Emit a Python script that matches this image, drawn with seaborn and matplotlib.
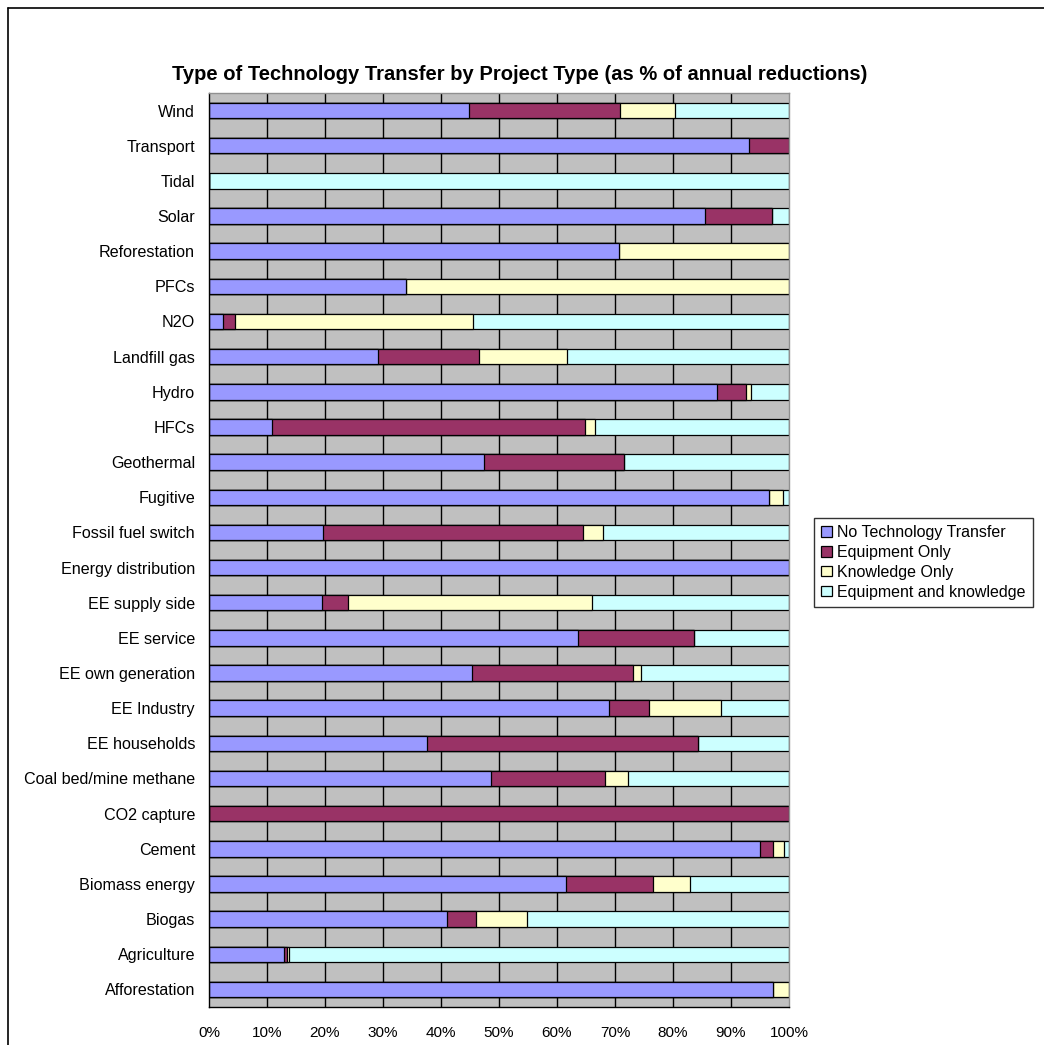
import matplotlib
matplotlib.use("Agg")
import matplotlib.pyplot as plt
from matplotlib.lines import Line2D
from matplotlib.patches import Patch
import numpy as np
import pandas as pd
import seaborn as sns

categories = ["Wind", "Transport", "Tidal", "Solar", "Reforestation", "PFCs", "N2O",
              "Landfill gas", "Hydro", "HFCs", "Geothermal", "Fugitive",
              "Fossil fuel switch", "Energy distribution", "EE supply side", "EE service",
              "EE own generation", "EE Industry", "EE households", "Coal bed/mine methane",
              "CO2 capture", "Cement", "Biomass energy", "Biogas", "Agriculture",
              "Afforestation"]

no_transfer = [44.9, 93.1, 0.0, 85.5, 70.7, 34.0, 2.4, 29.1, 87.6, 10.9, 47.4, 96.6,
               19.6, 100.0, 19.4, 63.7, 45.3, 68.9, 37.6, 48.7, 0.0, 95.0, 61.6, 41.1,
               12.9, 97.3]
equipment_only = [26.0, 6.9, 0.0, 11.6, 0.0, 0.0, 2.0, 17.4, 5.0, 53.9, 24.2, 0.0,
                  44.8, 0.0, 4.5, 20.0, 27.8, 7.0, 46.7, 19.5, 100.0, 2.3, 14.9, 5.0,
                  0.5, 0.0]
knowledge_only = [9.4, 0.0, 0.0, 0.0, 29.3, 66.0, 41.2, 15.2, 0.9, 1.8, 0.0, 2.3,
                  3.6, 0.0, 42.1, 0.0, 1.4, 12.3, 0.0, 4.0, 0.0, 1.8, 6.5, 8.7,
                  0.4, 2.7]
equip_and_knowledge = [19.7, 0.0, 100.0, 2.9, 0.0, 0.0, 54.4, 38.3, 6.5, 33.4, 28.4, 1.1,
                       32.0, 0.0, 34.0, 16.3, 25.5, 11.8, 15.7, 27.8, 0.0, 0.9, 17.0, 45.2,
                       86.2, 0.0]

series_names = ["No Technology Transfer", "Equipment Only", "Knowledge Only",
                "Equipment and knowledge"]
series_colors = ["#9999FF", "#993366", "#FFFFCC", "#CCFFFF"]
x_tick_labels = ["0%", "10%", "20%", "30%", "40%", "50%", "60%", "70%", "80%", "90%", "100%"]
title = "Type of Technology Transfer by Project Type (as % of annual reductions)"

df = pd.DataFrame({"category": categories,
                   series_names[0]: no_transfer,
                   series_names[1]: equipment_only,
                   series_names[2]: knowledge_only,
                   series_names[3]: equip_and_knowledge})
vals = df[series_names].to_numpy()
vals = vals / vals.sum(axis=1, keepdims=True) * 100.0
cum = np.cumsum(vals, axis=1)
for i, name in enumerate(series_names):
    df["cum_" + name] = cum[:, i]

sns.set_style("white")
plt.rcParams["font.family"] = ["Liberation Sans", "DejaVu Sans"]
plt.rcParams["text.color"] = "black"
plt.rcParams["axes.labelcolor"] = "black"
plt.rcParams["xtick.color"] = "black"
plt.rcParams["ytick.color"] = "black"

fig = plt.figure(figsize=(10.44, 10.45), dpi=100)
ax = fig.add_axes([209 / 1044, 1 - 1007 / 1045, 580 / 1044, (1007 - 93) / 1045])
ax.set_facecolor("#C0C0C0")

# vertical gridlines (drawn below bars)
for xv in range(10, 100, 10):
    ax.axvline(xv, color="#000000", lw=1.0, zorder=0.5)

# stacked bars: draw cumulative totals from the largest down
for i in reversed(range(len(series_names))):
    sns.barplot(data=df, y="category", x="cum_" + series_names[i], order=categories,
                orient="h", color=series_colors[i], saturation=1, width=0.44,
                edgecolor="#000000", linewidth=0.9, ax=ax, zorder=2)

ax.set_xlim(0, 100)
ax.set_ylim(len(categories) - 0.5, -0.5)
ax.set_xlabel("")
ax.set_ylabel("")
ax.set_xticks(range(0, 101, 10))
ax.set_xticklabels(x_tick_labels, fontsize=11, color="black")
ax.tick_params(axis="x", direction="out", length=5, width=1, color="black", pad=9)
ax.set_yticks(range(len(categories)))
ax.set_yticklabels(categories, fontsize=11.6, color="black")
ax.tick_params(axis="y", which="major", length=0, pad=10)
ax.set_yticks(np.arange(-0.5, len(categories), 1.0), minor=True)
ax.tick_params(axis="y", which="minor", direction="out", length=5, width=1, color="black")

for side in ["left", "bottom"]:
    ax.spines[side].set_visible(True)
    ax.spines[side].set_color("#000000")
    ax.spines[side].set_linewidth(1.0)
for side in ["top", "right"]:
    ax.spines[side].set_visible(True)
    ax.spines[side].set_color("#909090")
    ax.spines[side].set_linewidth(1.0)

fig.text(520 / 1044, 1 - 75 / 1045, title, ha="center", va="center",
         fontsize=14.5, fontweight="bold", color="black")

handles = [Patch(facecolor=c, edgecolor="#000000", linewidth=0.9, label=n)
           for n, c in zip(series_names, series_colors)]
leg = fig.legend(handles=handles, loc="upper left",
                 bbox_to_anchor=(814 / 1044, 1 - 518 / 1045),
                 bbox_transform=fig.transFigure, fontsize=11.5, frameon=True,
                 fancybox=False, handlelength=0.65, handleheight=0.65,
                 handletextpad=0.35, labelspacing=0.3, borderpad=0.45,
                 borderaxespad=0)
leg.get_frame().set_edgecolor("#000000")
leg.get_frame().set_linewidth(1.0)
for t in leg.get_texts():
    t.set_color("black")

# outer chart-area frame (left and top edges visible)
fig.add_artist(Line2D([8 / 1044, 8 / 1044], [0, 1 - 8 / 1045], color="black", lw=1.2,
                      transform=fig.transFigure))
fig.add_artist(Line2D([8 / 1044, 1], [1 - 8 / 1045, 1 - 8 / 1045], color="black", lw=1.2,
                      transform=fig.transFigure))

fig.savefig("out.png", dpi=100, facecolor="white")
